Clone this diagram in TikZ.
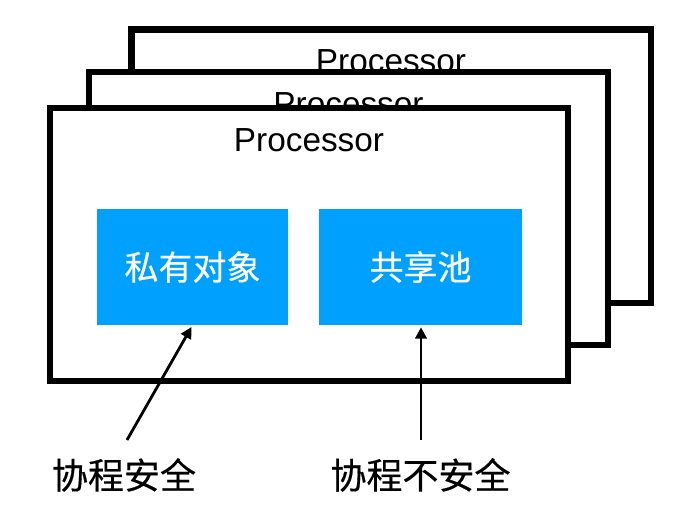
\documentclass[tikz,border=0pt]{standalone}
\usepackage{fontspec}
\setmainfont{Liberation Sans}
\newfontfamily\cjk[FakeBold=0.4]{Noto Sans CJK SC}
\usetikzlibrary{arrows.meta}
\definecolor{poolblue}{RGB}{0,160,255}

\begin{document}
\begin{tikzpicture}[x=0.75pt,y=-0.75pt,
  frame/.style={draw=black,line width=4.9pt,fill=white},
  title/.style={font=\fontsize{25}{30}\selectfont},
  obj/.style={fill=poolblue,text=white,minimum height=87pt,inner sep=0pt,font=\cjk\fontsize{25.5}{30}\selectfont},
  note/.style={font=\cjk\fontsize{27}{32}\selectfont},
  arr/.style={-{Triangle[length=8.5pt,width=8.5pt]},line width=2.1pt}]

  \useasboundingbox (0,0) rectangle (683,530);

  % Processors
  \draw[frame] (131.5,29.5) rectangle (651,303);
  \node[title] (t3) at (391,61.5) {Processor};
  \draw[frame] (89,72) rectangle (608,345);
  \node[title] (t2) at (348.5,104) {Processor};
  \draw[frame] (50,108) rectangle (568,381);
  \node[title] (t1) at (309,140) {Processor};

  % Objects
  \node[obj,minimum width=143.25pt] (priv) at (192.5,267) {私有对象};
  \node[obj,minimum width=152.25pt] (pool) at (420.5,267) {共享池};

  % Labels
  \node[note] (safe) at (124,475) {协程安全};
  \node[note] (unsafe) at (420.5,475) {协程不安全};
  \coordinate (s1) at (127,440);
  \coordinate (s2) at (421,440);

  % Arrows
  \draw[arr,shorten >=1.5pt] (s1) -- (priv.south);
  \draw[arr,shorten >=1.5pt] (s2) -- (s2 |- pool.south);
\end{tikzpicture}
\end{document}
